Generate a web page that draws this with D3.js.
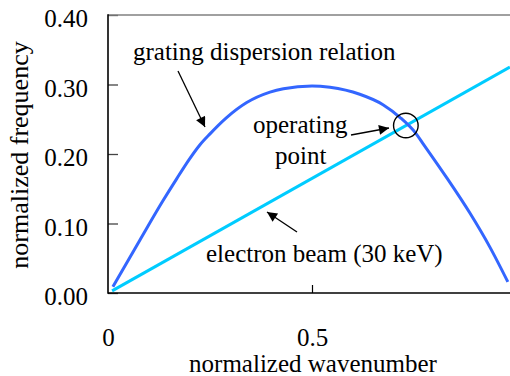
<!DOCTYPE html>
<html>
<head>
<meta charset="utf-8">
<script src="https://cdn.jsdelivr.net/npm/d3@7"></script>
<style>
  body { margin: 0; background: #fff; }
</style>
</head>
<body>
<svg id="chart"></svg>
<script>
// grating dispersion relation
const dispK = [0.012, 0.078, 0.135, 0.169, 0.2, 0.225, 0.25, 0.29, 0.34, 0.397, 0.43, 0.5, 0.544, 0.617, 0.674, 0.716, 0.754, 0.772, 0.83, 0.887, 0.936, 0.98];
const dispF = [0.009, 0.076, 0.133, 0.165, 0.193, 0.213, 0.229, 0.252, 0.274, 0.289, 0.294, 0.298, 0.296, 0.286, 0.271, 0.2525, 0.23, 0.215, 0.166, 0.115, 0.066, 0.016];
// electron beam line (30 keV)
const beamK = [0.01, 0.985];
const beamF = [0.003, 0.325];

const yTicks = [0, 0.1, 0.2, 0.3, 0.4];
const yTickLabels = ["0.00", "0.10", "0.20", "0.30", "0.40"];
const xTicks = [0, 0.5];
const xTickLabels = ["0", "0.5"];

const opK = 0.73, opF = 0.241;

const W = 510, H = 376;
const plotLeft = 108, plotTop = 15, plotBottom = 293;
const FONT = "'Liberation Serif', 'Times New Roman', Times, 'DejaVu Serif', serif";

const svg = d3.select("#chart").attr("width", W).attr("height", H);

const x = d3.scaleLinear().domain([0, 1]).range([plotLeft, plotLeft + 408]);
const y = d3.scaleLinear().domain([0, 0.4]).range([plotBottom, plotTop]);

// y axis
const yAxis = svg.append("g")
    .attr("transform", `translate(${plotLeft},0)`)
    .call(d3.axisLeft(y).tickValues(yTicks)
        .tickFormat((d, i) => yTickLabels[i])
        .tickSizeInner(-10).tickSizeOuter(0).tickPadding(20));
yAxis.attr("font-family", FONT);
yAxis.select(".domain").remove();
yAxis.selectAll(".tick line").attr("stroke", "#444").attr("stroke-width", 1.3);
yAxis.selectAll(".tick text").attr("font-size", 25).attr("dy", "0.46em");

// x axis
const xAxis = svg.append("g")
    .attr("transform", `translate(0,${plotBottom})`)
    .call(d3.axisBottom(x).tickValues(xTicks)
        .tickFormat((d, i) => xTickLabels[i])
        .tickSizeInner(-8).tickSizeOuter(0).tickPadding(35));
xAxis.attr("font-family", FONT);
xAxis.select(".domain").remove();
xAxis.selectAll(".tick line").attr("stroke", "#000").attr("stroke-width", 1.2)
    .filter(d => d === 0).remove();
xAxis.selectAll(".tick text").attr("font-size", 25);

// frame
svg.append("line").attr("x1", plotLeft).attr("x2", W).attr("y1", plotTop).attr("y2", plotTop)
    .attr("stroke", "#808080").attr("stroke-width", 1.6);
svg.append("line").attr("x1", plotLeft).attr("x2", plotLeft).attr("y1", plotTop - 0.8).attr("y2", plotBottom + 0.8)
    .attr("stroke", "#000").attr("stroke-width", 1.6);
svg.append("line").attr("x1", plotLeft).attr("x2", W).attr("y1", plotBottom).attr("y2", plotBottom)
    .attr("stroke", "#000").attr("stroke-width", 1.6);

// axis titles
svg.append("text").attr("x", 313).attr("y", 372).attr("text-anchor", "middle")
    .attr("font-family", FONT).attr("font-size", 25).text("normalized wavenumber");
svg.append("text").attr("transform", "translate(28,155) rotate(-90)")
    .attr("text-anchor", "middle").attr("font-family", FONT).attr("font-size", 26)
    .text("normalized frequency");

// curves
const line = d3.line().x(d => x(d[0])).y(d => y(d[1])).curve(d3.curveMonotoneX);

svg.append("path")
    .datum(beamK.map((k, i) => [k, beamF[i]]))
    .attr("d", line).attr("fill", "none")
    .attr("stroke", "#00ccff").attr("stroke-width", 3);

svg.append("path")
    .datum(dispK.map((k, i) => [k, dispF[i]]))
    .attr("d", line).attr("fill", "none")
    .attr("stroke", "#3366ff").attr("stroke-width", 3);

// annotations
const defs = svg.append("defs");
defs.append("marker").attr("id", "arr")
    .attr("viewBox", "0 0 10 10").attr("refX", 10).attr("refY", 5)
    .attr("markerWidth", 13).attr("markerHeight", 10).attr("markerUnits", "userSpaceOnUse")
    .attr("orient", "auto")
    .append("path").attr("d", "M0,0L10,5L0,10z").attr("fill", "#000");

function arrow(x1, y1, x2, y2) {
  svg.append("line").attr("x1", x1).attr("y1", y1).attr("x2", x2).attr("y2", y2)
      .attr("stroke", "#000").attr("stroke-width", 1.3).attr("marker-end", "url(#arr)");
}

function label(xp, yp, txt) {
  svg.append("text").attr("x", xp).attr("y", yp)
      .attr("font-family", FONT).attr("font-size", 25).text(txt);
}

label(133, 60, "grating dispersion relation");
arrow(178, 71, 205, 127);

label(253, 133, "operating");
label(275, 164, "point");
arrow(351, 135, 389, 128);

svg.append("circle").attr("cx", x(opK)).attr("cy", y(opF)).attr("r", 12.3)
    .attr("fill", "none").attr("stroke", "#000").attr("stroke-width", 1.4);

label(206, 262, "electron beam (30 keV)");
arrow(297, 232, 267, 212);
</script>
</body>
</html>
